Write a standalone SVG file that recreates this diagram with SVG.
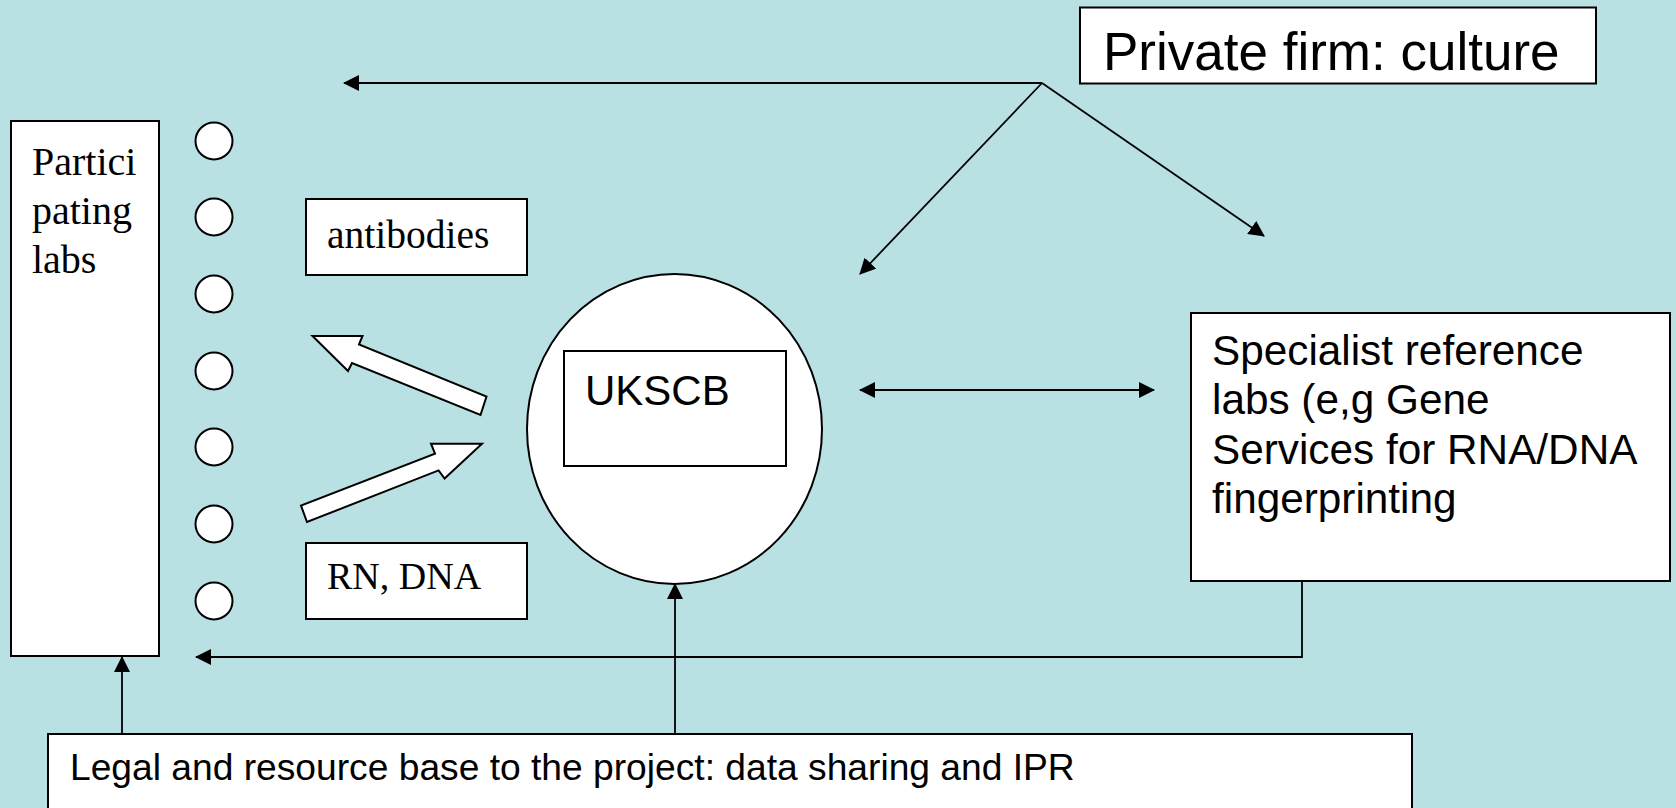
<svg xmlns="http://www.w3.org/2000/svg" width="1676" height="808" viewBox="0 0 1676 808">
<defs>
<marker id="ah" viewBox="0 0 16 16" refX="15" refY="8" markerWidth="16" markerHeight="16" markerUnits="userSpaceOnUse" orient="auto-start-reverse">
<path d="M0,0 L16,8 L0,16 Z" fill="#000"/>
</marker>
<style>
.box{fill:#fff;stroke:#000;stroke-width:2}
.ln{fill:none;stroke:#000;stroke-width:1.8}
.serif{font-family:"Liberation Serif","Times New Roman",serif;fill:#000}
.sans{font-family:"Liberation Sans",Arial,sans-serif;fill:#000}
</style>
</defs>
<rect x="0" y="0" width="1676" height="808" fill="#B9E0E3"/>

<g id="participating-labs">
<rect class="box" x="11" y="121" width="148" height="535"/>
<text class="serif" font-size="40" x="32"><tspan x="32" y="175">Partici</tspan><tspan x="32" y="224">pating</tspan><tspan x="32" y="273">labs</tspan></text>
</g>

<g id="lab-circles">
<circle class="box" cx="214" cy="141" r="18.5"/>
<circle class="box" cx="214" cy="217" r="18.5"/>
<circle class="box" cx="214" cy="294" r="18.5"/>
<circle class="box" cx="214" cy="371" r="18.5"/>
<circle class="box" cx="214" cy="447" r="18.5"/>
<circle class="box" cx="214" cy="524" r="18.5"/>
<circle class="box" cx="214" cy="601" r="18.5"/>
</g>

<g id="antibodies">
<rect class="box" x="306" y="199" width="221" height="76"/>
<text class="serif" font-size="39.5" x="327" y="248">antibodies</text>
</g>

<g id="rn-dna">
<rect class="box" x="306" y="543" width="221" height="76"/>
<text class="serif" font-size="38" x="327" y="589">RN, DNA</text>
</g>

<g id="ukscb">
<ellipse class="box" cx="674.5" cy="429" rx="147.5" ry="155"/>
<rect class="box" x="564" y="351" width="222" height="115"/>
<text class="sans" font-size="42" x="585" y="405">UKSCB</text>
</g>

<g id="private-firm">
<rect class="box" x="1080" y="7.5" width="516" height="76"/>
<text class="sans" font-size="53" x="1103" y="70">Private firm: culture</text>
</g>

<g id="specialist-labs">
<rect class="box" x="1191" y="313" width="479" height="268"/>
<text class="sans" font-size="42.3"><tspan x="1212" y="365">Specialist reference</tspan><tspan x="1212" y="414">labs (e,g Gene</tspan><tspan x="1212" y="464">Services for RNA/DNA</tspan><tspan x="1212" y="513">fingerprinting</tspan></text>
</g>

<g id="legal-base">
<rect class="box" x="48" y="734" width="1364" height="90"/>
<text class="sans" font-size="37.2" x="70" y="780">Legal and resource base to the project: data sharing and IPR</text>
</g>

<g id="connectors">
<polygon class="box" points="312.5,336 362.5,336 359,344.5 486.5,396.5 480.5,415 352,363 348,371"/>
<polygon class="box" points="482,443.7 431,443.7 435,453.7 301,505.6 307,522 438.6,470.4 444.6,478.5"/>
<line class="ln" x1="1042" y1="83" x2="344" y2="83" marker-end="url(#ah)"/>
<line class="ln" x1="1042" y1="83" x2="860" y2="274" marker-end="url(#ah)"/>
<line class="ln" x1="1042" y1="83" x2="1264" y2="236" marker-end="url(#ah)"/>
<line class="ln" x1="860" y1="390" x2="1154" y2="390" marker-start="url(#ah)" marker-end="url(#ah)"/>
<polyline class="ln" points="1302,581 1302,657 196,657" marker-end="url(#ah)"/>
<line class="ln" x1="122" y1="734" x2="122" y2="657" marker-end="url(#ah)"/>
<line class="ln" x1="675" y1="734" x2="675" y2="584" marker-end="url(#ah)"/>
</g>
</svg>
